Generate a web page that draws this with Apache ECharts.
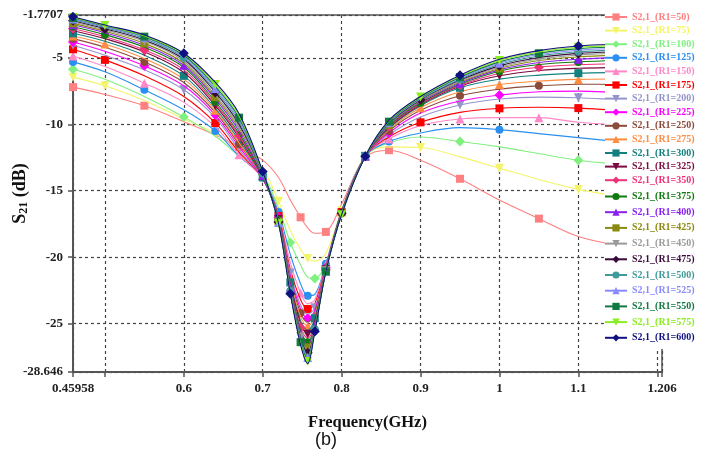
<!DOCTYPE html>
<html>
<head>
<meta charset="utf-8">
<script src="https://cdn.jsdelivr.net/npm/echarts@6/dist/echarts.min.js"></script>
<style>
  html, body { margin: 0; padding: 0; background: #fff; }
  #chart { width: 706px; height: 460px; }
</style>
</head>
<body>
<div id="chart"></div>
<script>
// Frequency sweep points (GHz)
const freq = [0.45958, 0.50, 0.55, 0.60, 0.64, 0.67, 0.70, 0.72, 0.735, 0.748, 0.757, 0.766, 0.78, 0.80, 0.83, 0.86, 0.90, 0.95, 1.00, 1.05, 1.10, 1.15, 1.206];

// S21 (dB) for each R1 value
const r1_50  = [-7.2, -7.75, -8.6, -9.8, -10.8, -11.7, -12.7, -14.0, -15.7, -17.0, -17.8, -18.2, -18.1, -16.0, -12.5, -11.95, -12.7, -14.1, -15.7, -17.1, -18.45, -19.1, -19.5];
const r1_75  = [-6.45, -7.1, -8.2, -9.6, -10.7, -12.0, -13.4, -15.8, -18.0, -19.4, -20.1, -20.3, -19.7, -16.5, -12.4, -11.7, -11.75, -12.45, -13.3, -14.15, -14.9, -15.4, -15.9];
const r1_100 = [-5.85, -6.6, -7.9, -9.45, -10.9, -12.4, -13.8, -16.3, -18.9, -20.6, -21.5, -21.6, -20.5, -16.5, -12.4, -11.4, -10.95, -11.3, -11.7, -12.2, -12.7, -13.0, -13.3];
const r1_125 = [-5.3, -6.05, -7.4, -8.9, -10.5, -12.4, -14.0, -16.6, -19.8, -22.0, -22.9, -22.8, -20.5, -16.5, -12.4, -11.3, -10.65, -10.25, -10.4, -10.7, -11.0, -11.3, -11.6];
const r1_150 = [-4.85, -5.65, -6.9, -8.35, -10.2, -12.3, -14.1, -16.8, -20.4, -22.7, -23.5, -23.2, -20.6, -16.55, -12.4, -11.1, -10.1, -9.6, -9.5, -9.5, -9.85, -10.05, -10.2];
const r1_175 = [-4.35, -5.15, -6.35, -7.9, -9.9, -12.1, -14.1, -16.9, -20.9, -23.2, -23.9, -23.5, -20.7, -16.6, -12.4, -10.95, -9.85, -9.1, -8.8, -8.72, -8.78, -8.95, -9.1];
const r1_200 = [-4.05, -4.8, -5.9, -7.4, -9.5, -11.9, -14.1, -17.0, -21.2, -23.6, -24.3, -23.8, -20.75, -16.6, -12.4, -10.8, -9.45, -8.55, -8.1, -7.95, -8.0, -8.15, -8.3];
const r1_225 = [-3.8, -4.5, -5.6, -7.1, -9.3, -11.7, -14.1, -17.0, -21.4, -23.9, -24.6, -24.0, -20.8, -16.6, -12.4, -10.65, -9.15, -8.25, -7.8, -7.55, -7.5, -7.6, -7.7];
const r1_250 = [-3.55, -4.2, -5.3, -6.85, -9.1, -11.5, -14.0, -17.05, -21.6, -24.2, -24.9, -24.2, -20.85, -16.6, -12.4, -10.5, -8.95, -7.85, -7.35, -7.1, -6.98, -7.0, -7.05];
const r1_275 = [-3.35, -3.95, -5.05, -6.6, -8.95, -11.4, -14.0, -17.1, -21.75, -24.5, -25.2, -24.4, -20.9, -16.6, -12.4, -10.4, -8.75, -7.55, -7.0, -6.75, -6.62, -6.58, -6.56];
const r1_300 = [-3.15, -3.75, -4.8, -6.35, -8.8, -11.2, -14.0, -17.1, -21.9, -24.8, -25.5, -24.6, -20.92, -16.6, -12.4, -10.3, -8.6, -7.25, -6.6, -6.3, -6.15, -6.1, -6.07];
const r1_325 = [-2.95, -3.55, -4.55, -6.1, -8.6, -11.0, -13.95, -17.15, -22.0, -25.0, -25.8, -24.8, -20.95, -16.65, -12.4, -10.25, -8.52, -7.14, -6.35, -5.95, -5.78, -5.72, -5.68];
const r1_350 = [-2.8, -3.4, -4.4, -5.9, -8.45, -10.85, -13.9, -17.2, -22.1, -25.3, -26.1, -25.0, -20.97, -16.65, -12.4, -10.2, -8.45, -7.06, -6.15, -5.7, -5.52, -5.44, -5.4];
const r1_375 = [-2.65, -3.25, -4.2, -5.7, -8.3, -10.7, -13.9, -17.2, -22.2, -25.5, -26.4, -25.1, -21.0, -16.65, -12.4, -10.15, -8.38, -6.98, -6.0, -5.5, -5.3, -5.2, -5.15];
const r1_400 = [-2.5, -3.1, -4.05, -5.55, -8.1, -10.5, -13.85, -17.25, -22.3, -25.7, -26.6, -25.2, -21.0, -16.7, -12.4, -10.1, -8.3, -6.9, -5.9, -5.35, -5.1, -4.98, -4.93];
const r1_425 = [-2.4, -3.0, -3.9, -5.4, -7.95, -10.3, -13.8, -17.3, -22.4, -25.9, -26.8, -25.3, -21.0, -16.7, -12.4, -10.05, -8.25, -6.82, -5.8, -5.2, -4.92, -4.8, -4.74];
const r1_450 = [-2.3, -2.9, -3.75, -5.25, -7.8, -10.15, -13.75, -17.3, -22.45, -26.0, -27.0, -25.35, -21.02, -16.7, -12.4, -10.0, -8.2, -6.75, -5.7, -5.08, -4.78, -4.66, -4.6];
const r1_475 = [-2.2, -2.8, -3.65, -5.1, -7.6, -10.0, -13.7, -17.35, -22.5, -26.1, -27.2, -25.4, -21.03, -16.7, -12.4, -9.95, -8.15, -6.67, -5.6, -4.97, -4.66, -4.54, -4.48];
const r1_500 = [-2.12, -2.72, -3.55, -5.0, -7.45, -9.8, -13.7, -17.35, -22.55, -26.2, -27.4, -25.45, -21.05, -16.75, -12.4, -9.9, -8.1, -6.6, -5.5, -4.86, -4.54, -4.42, -4.36];
const r1_525 = [-2.05, -2.66, -3.45, -4.9, -7.3, -9.65, -13.65, -17.4, -22.6, -26.3, -27.55, -25.5, -21.06, -16.75, -12.4, -9.85, -8.05, -6.52, -5.4, -4.75, -4.42, -4.3, -4.24];
const r1_550 = [-2.0, -2.6, -3.4, -4.8, -7.15, -9.5, -13.6, -17.4, -22.65, -26.4, -27.7, -25.5, -21.08, -16.75, -12.4, -9.8, -8.0, -6.45, -5.3, -4.65, -4.3, -4.18, -4.12];
const r1_575 = [-1.95, -2.56, -3.33, -4.7, -7.0, -9.35, -13.6, -17.45, -22.7, -26.5, -27.85, -25.55, -21.09, -16.8, -12.4, -9.75, -7.95, -6.38, -5.2, -4.55, -4.2, -4.08, -4.02];
const r1_600 = [-1.9, -2.52, -3.28, -4.65, -6.85, -9.2, -13.55, -17.45, -22.75, -26.6, -28.0, -25.6, -21.1, -16.8, -12.4, -9.7, -7.9, -6.3, -5.1, -4.45, -4.1, -3.98, -3.92];

const r1Levels = [50, 75, 100, 125, 150, 175, 200, 225, 250, 275, 300, 325, 350, 375, 400, 425, 450, 475, 500, 525, 550, 575, 600];
const curves = [r1_50, r1_75, r1_100, r1_125, r1_150, r1_175, r1_200, r1_225, r1_250, r1_275, r1_300, r1_325, r1_350, r1_375, r1_400, r1_425, r1_450, r1_475, r1_500, r1_525, r1_550, r1_575, r1_600];

// Axis tick / label values
const xTicks = [0.45958, 0.5, 0.6, 0.7, 0.8, 0.9, 1.0, 1.1, 1.2, 1.206];
const xLabels = [0.45958, 0.6, 0.7, 0.8, 0.9, 1, 1.1, 1.206];
const yTicks = [-28.646, -25, -20, -15, -10, -5, -1.7707];

const colors = ['#FF8080', '#F4F46A', '#80F080', '#2A8FF0', '#FF88C8', '#FF0000', '#9494CC', '#FF00FF',
  '#8B4B3B', '#FF8C40', '#138080', '#7A0A40', '#F03078', '#107A10', '#8A20F0', '#8A8A10',
  '#9A9A9A', '#3A0A3A', '#409A9A', '#8A8AFF', '#107A40', '#8AEE20', '#101080'];

// marker shape cycle: square, down-triangle, diamond, circle, up-triangle
const shapes = [
  { symbol: 'rect', rotate: 0, size: 8 },
  { symbol: 'triangle', rotate: 180, size: 9 },
  { symbol: 'diamond', rotate: 0, size: 10 },
  { symbol: 'circle', rotate: 0, size: 8 },
  { symbol: 'triangle', rotate: 0, size: 9 }
];
// which sweep points carry a marker (staggered between curves)
const markerSets = [
  [0, 2, 5, 9, 12, 15, 17, 19, 21],
  [0, 1, 4, 7, 10, 13, 16, 18, 20],
  [0, 3, 6, 8, 11, 14, 17, 20],
  [0, 2, 4, 7, 10, 12, 15, 18, 21]
];

const names = r1Levels.map(r => 'S2,1_(R1=' + r + ')');

const series = curves.map((vals, i) => {
  const shp = shapes[i % 5];
  const marks = markerSets[i % 4];
  return {
    name: names[i],
    type: 'line',
    smooth: 0.35,
    data: freq.map((f, k) => [f, vals[k]]),
    symbol: shp.symbol,
    symbolRotate: shp.rotate,
    symbolSize: (v, p) => (marks.indexOf(p.dataIndex) >= 0 ? shp.size : 0),
    showAllSymbol: true,
    lineStyle: { color: colors[i], width: 1.1 },
    itemStyle: { color: colors[i] },
    z: 2 + i * 0.01,
    emphasis: { disabled: true }
  };
});

const legendText = { fontFamily: 'Liberation Serif', fontWeight: 'bold', fontSize: 10, lineHeight: 10 };
const legendBase = {
  orient: 'vertical', left: 604, padding: 0, itemWidth: 22, itemHeight: 9,
  selectedMode: false, z: 60, textStyle: legendText
};

const chart = echarts.init(document.getElementById('chart'), null, { renderer: 'canvas' });
chart.setOption({
  animation: false,
  backgroundColor: '#fff',
  grid: {
    left: 73, right: 44, top: 15, bottom: 88,
    show: true, borderColor: '#555', borderWidth: 1.5, backgroundColor: 'transparent',
    containLabel: false, outerBoundsMode: 'none'
  },
  xAxis: {
    type: 'value', min: 0.45958, max: 1.206,
    name: 'Frequency(GHz)', nameLocation: 'middle', nameGap: 42,
    nameTextStyle: { fontFamily: 'Liberation Serif', fontWeight: 'bold', fontSize: 16.5, color: '#111' },
    axisLine: { show: true, lineStyle: { color: '#555', width: 2 } },
    axisTick: { show: true, customValues: xTicks, length: 5, lineStyle: { color: '#555', width: 1.5 } },
    axisLabel: { customValues: xLabels, margin: 10, fontFamily: 'Liberation Serif', fontWeight: 'bold', fontSize: 13, color: '#222',
      formatter: v => String(v) },
    splitLine: { show: true, lineStyle: { color: '#444', type: [3, 3], width: 1.2 } }
  },
  yAxis: {
    type: 'value', min: -28.646, max: -1.7707,
    name: '{s|S}{sub|21}{s| (dB)}', nameLocation: 'middle', nameGap: 43, nameRotate: 90,
    nameMoveOverlap: false,
    nameTextStyle: {
      rich: {
        s: { fontFamily: 'Liberation Serif', fontWeight: 'bold', fontSize: 18, color: '#111' },
        sub: { fontFamily: 'Liberation Serif', fontWeight: 'bold', fontSize: 12, color: '#111', verticalAlign: 'bottom', padding: [7, 0, 0, 0] }
      }
    },
    axisLine: { show: true, lineStyle: { color: '#555', width: 2 } },
    axisTick: { show: true, customValues: yTicks, length: 5, lineStyle: { color: '#555', width: 1.5 } },
    axisLabel: { customValues: yTicks, margin: 10, fontFamily: 'Liberation Serif', fontWeight: 'bold', fontSize: 13, color: '#222',
      formatter: v => String(v) },
    splitLine: { show: true, lineStyle: { color: '#444', type: [3, 3], width: 1.2 } }
  },
  legend: [
    Object.assign({}, legendBase, {
      top: 12, itemGap: 3.6,
      data: names.slice(0, 13).map((n, i) => ({ name: n, textStyle: { color: colors[i] } }))
    }),
    Object.assign({}, legendBase, {
      top: 191.5, itemGap: 5.7,
      data: names.slice(13).map((n, i) => ({ name: n, textStyle: { color: colors[i + 13] } }))
    })
  ],
  graphic: [
    { type: 'rect', shape: { x: 605, y: 0, width: 101, height: 349 }, style: { fill: '#fff' }, z: 50, silent: true },
    { type: 'text', left: 315, top: 431, z: 50, style: { text: '(b)', fontFamily: 'Liberation Sans', fontSize: 18, fill: '#111' } }
  ],
  series: series
});
</script>
</body>
</html>
